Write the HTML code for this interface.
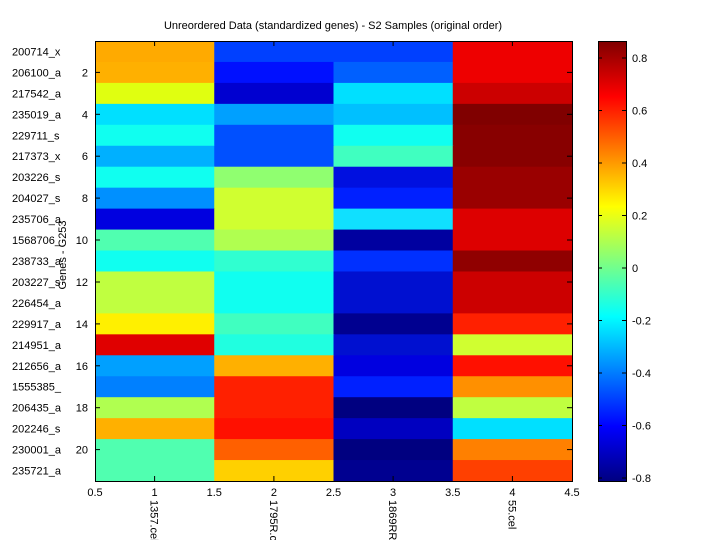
<!DOCTYPE html><html><head><style>body{margin:0;background:#fff}</style></head><body>
<svg width="720" height="540" xmlns="http://www.w3.org/2000/svg" font-family="Liberation Sans, sans-serif" font-size="11">
<rect width="720" height="540" fill="#fff"/>
<text x="333" y="29" text-anchor="middle">Unreordered Data (standardized genes) - S2 Samples (original order)</text>
<g>
<g transform="translate(0,41)"><rect x="95" width="120" height="21.5" fill="#FFAA00"/><rect x="214.25" width="120" height="21.5" fill="#0040FF"/><rect x="333.5" width="120" height="21.5" fill="#0040FF"/><rect x="452.75" width="119.25" height="21.5" fill="#EE0000"/></g>
<g transform="translate(0,61.95)"><rect x="95" width="120" height="21.5" fill="#FFB000"/><rect x="214.25" width="120" height="21.5" fill="#0010FF"/><rect x="333.5" width="120" height="21.5" fill="#0060FF"/><rect x="452.75" width="119.25" height="21.5" fill="#EE0000"/></g>
<g transform="translate(0,82.9)"><rect x="95" width="120" height="21.5" fill="#E0FF10"/><rect x="214.25" width="120" height="21.5" fill="#0000D0"/><rect x="333.5" width="120" height="21.5" fill="#00E0FF"/><rect x="452.75" width="119.25" height="21.5" fill="#CC0000"/></g>
<g transform="translate(0,103.86)"><rect x="95" width="120" height="21.5" fill="#00E0FF"/><rect x="214.25" width="120" height="21.5" fill="#00A0FF"/><rect x="333.5" width="120" height="21.5" fill="#00C0FF"/><rect x="452.75" width="119.25" height="21.5" fill="#800000"/></g>
<g transform="translate(0,124.81)"><rect x="95" width="120" height="21.5" fill="#10FFF0"/><rect x="214.25" width="120" height="21.5" fill="#0050FF"/><rect x="333.5" width="120" height="21.5" fill="#10FFF0"/><rect x="452.75" width="119.25" height="21.5" fill="#880000"/></g>
<g transform="translate(0,145.76)"><rect x="95" width="120" height="21.5" fill="#00B0FF"/><rect x="214.25" width="120" height="21.5" fill="#0050FF"/><rect x="333.5" width="120" height="21.5" fill="#40FFC0"/><rect x="452.75" width="119.25" height="21.5" fill="#880000"/></g>
<g transform="translate(0,166.71)"><rect x="95" width="120" height="21.5" fill="#10FFF0"/><rect x="214.25" width="120" height="21.5" fill="#90FF70"/><rect x="333.5" width="120" height="21.5" fill="#0010E0"/><rect x="452.75" width="119.25" height="21.5" fill="#9A0000"/></g>
<g transform="translate(0,187.67)"><rect x="95" width="120" height="21.5" fill="#0090FF"/><rect x="214.25" width="120" height="21.5" fill="#D0FF30"/><rect x="333.5" width="120" height="21.5" fill="#0020FF"/><rect x="452.75" width="119.25" height="21.5" fill="#9A0000"/></g>
<g transform="translate(0,208.62)"><rect x="95" width="120" height="21.5" fill="#0000E0"/><rect x="214.25" width="120" height="21.5" fill="#D0FF30"/><rect x="333.5" width="120" height="21.5" fill="#10E0FF"/><rect x="452.75" width="119.25" height="21.5" fill="#DD0000"/></g>
<g transform="translate(0,229.57)"><rect x="95" width="120" height="21.5" fill="#50FFB0"/><rect x="214.25" width="120" height="21.5" fill="#B0FF50"/><rect x="333.5" width="120" height="21.5" fill="#0000A0"/><rect x="452.75" width="119.25" height="21.5" fill="#DD0000"/></g>
<g transform="translate(0,250.52)"><rect x="95" width="120" height="21.5" fill="#10FFF0"/><rect x="214.25" width="120" height="21.5" fill="#30FFD0"/><rect x="333.5" width="120" height="21.5" fill="#0030FF"/><rect x="452.75" width="119.25" height="21.5" fill="#900000"/></g>
<g transform="translate(0,271.48)"><rect x="95" width="120" height="21.5" fill="#C0FF40"/><rect x="214.25" width="120" height="21.5" fill="#10FFF0"/><rect x="333.5" width="120" height="21.5" fill="#0010D0"/><rect x="452.75" width="119.25" height="21.5" fill="#CC0000"/></g>
<g transform="translate(0,292.43)"><rect x="95" width="120" height="21.5" fill="#C0FF40"/><rect x="214.25" width="120" height="21.5" fill="#10FFF0"/><rect x="333.5" width="120" height="21.5" fill="#0010D0"/><rect x="452.75" width="119.25" height="21.5" fill="#CC0000"/></g>
<g transform="translate(0,313.38)"><rect x="95" width="120" height="21.5" fill="#FFF000"/><rect x="214.25" width="120" height="21.5" fill="#40FFC0"/><rect x="333.5" width="120" height="21.5" fill="#000090"/><rect x="452.75" width="119.25" height="21.5" fill="#FF2000"/></g>
<g transform="translate(0,334.33)"><rect x="95" width="120" height="21.5" fill="#E00000"/><rect x="214.25" width="120" height="21.5" fill="#20FFE0"/><rect x="333.5" width="120" height="21.5" fill="#0010D0"/><rect x="452.75" width="119.25" height="21.5" fill="#D0FF30"/></g>
<g transform="translate(0,355.29)"><rect x="95" width="120" height="21.5" fill="#00A0FF"/><rect x="214.25" width="120" height="21.5" fill="#FFB000"/><rect x="333.5" width="120" height="21.5" fill="#0000E0"/><rect x="452.75" width="119.25" height="21.5" fill="#FF1000"/></g>
<g transform="translate(0,376.24)"><rect x="95" width="120" height="21.5" fill="#0080FF"/><rect x="214.25" width="120" height="21.5" fill="#FF2000"/><rect x="333.5" width="120" height="21.5" fill="#0020FF"/><rect x="452.75" width="119.25" height="21.5" fill="#FF9000"/></g>
<g transform="translate(0,397.19)"><rect x="95" width="120" height="21.5" fill="#B0FF50"/><rect x="214.25" width="120" height="21.5" fill="#FF2000"/><rect x="333.5" width="120" height="21.5" fill="#000080"/><rect x="452.75" width="119.25" height="21.5" fill="#C0FF40"/></g>
<g transform="translate(0,418.14)"><rect x="95" width="120" height="21.5" fill="#FFB000"/><rect x="214.25" width="120" height="21.5" fill="#FF1000"/><rect x="333.5" width="120" height="21.5" fill="#0000C0"/><rect x="452.75" width="119.25" height="21.5" fill="#00E0FF"/></g>
<g transform="translate(0,439.1)"><rect x="95" width="120" height="21.5" fill="#50FFB0"/><rect x="214.25" width="120" height="21.5" fill="#FF6000"/><rect x="333.5" width="120" height="21.5" fill="#000080"/><rect x="452.75" width="119.25" height="21.5" fill="#FF8000"/></g>
<g transform="translate(0,460.05)"><rect x="95" width="120" height="20.95" fill="#50FFB0"/><rect x="214.25" width="120" height="20.95" fill="#FFD000"/><rect x="333.5" width="120" height="20.95" fill="#000090"/><rect x="452.75" width="119.25" height="20.95" fill="#FF4000"/></g>
</g>
<rect x="95.5" y="41.5" width="477" height="440" fill="none" stroke="#000"/>
<defs><linearGradient id="jet" x1="0" y1="1" x2="0" y2="0">
<stop offset="0" stop-color="#000080"/><stop offset="0.125" stop-color="#0000ff"/><stop offset="0.375" stop-color="#00ffff"/><stop offset="0.625" stop-color="#ffff00"/><stop offset="0.875" stop-color="#ff0000"/><stop offset="1" stop-color="#800000"/></linearGradient></defs>
<rect x="598.5" y="41.5" width="28" height="440" fill="url(#jet)" stroke="#000"/>
<g stroke="#000">
<line x1="598" x2="602" y1="478" y2="478"/><line x1="622" x2="626" y1="478" y2="478"/>
<line x1="598" x2="602" y1="425.5" y2="425.5"/><line x1="622" x2="626" y1="425.5" y2="425.5"/>
<line x1="598" x2="602" y1="373" y2="373"/><line x1="622" x2="626" y1="373" y2="373"/>
<line x1="598" x2="602" y1="320.5" y2="320.5"/><line x1="622" x2="626" y1="320.5" y2="320.5"/>
<line x1="598" x2="602" y1="268" y2="268"/><line x1="622" x2="626" y1="268" y2="268"/>
<line x1="598" x2="602" y1="215.5" y2="215.5"/><line x1="622" x2="626" y1="215.5" y2="215.5"/>
<line x1="598" x2="602" y1="163" y2="163"/><line x1="622" x2="626" y1="163" y2="163"/>
<line x1="598" x2="602" y1="110.5" y2="110.5"/><line x1="622" x2="626" y1="110.5" y2="110.5"/>
<line x1="598" x2="602" y1="58" y2="58"/><line x1="622" x2="626" y1="58" y2="58"/>
</g>
<g>
<text x="632" y="482">-0.8</text><text x="632" y="429.5">-0.6</text><text x="632" y="377">-0.4</text><text x="632" y="324.5">-0.2</text><text x="632" y="272">0</text><text x="632" y="219.5">0.2</text><text x="632" y="167">0.4</text><text x="632" y="114.5">0.6</text><text x="632" y="62">0.8</text>
</g>
<g>
<text x="12" y="55.5">200714_x</text><text x="12" y="76.4">206100_a</text><text x="12" y="97.4">217542_a</text><text x="12" y="118.3">235019_a</text><text x="12" y="139.3">229711_s</text><text x="12" y="160.2">217373_x</text><text x="12" y="181.2">203226_s</text><text x="12" y="202.1">204027_s</text><text x="12" y="223.1">235706_a</text><text x="12" y="244">1568706_</text><text x="12" y="265">238733_a</text><text x="12" y="286">203227_s</text><text x="12" y="306.9">226454_a</text><text x="12" y="327.9">229917_a</text><text x="12" y="348.8">214951_a</text><text x="12" y="369.8">212656_a</text><text x="12" y="390.7">1555385_</text><text x="12" y="411.7">206435_a</text><text x="12" y="432.6">202246_s</text><text x="12" y="453.6">230001_a</text><text x="12" y="474.5">235721_a</text>
</g>
<g text-anchor="end">
<text x="88" y="76.4">2</text><text x="88" y="118.3">4</text><text x="88" y="160.2">6</text><text x="88" y="202.1">8</text><text x="88" y="244">10</text><text x="88" y="286">12</text><text x="88" y="327.9">14</text><text x="88" y="369.8">16</text><text x="88" y="411.7">18</text><text x="88" y="453.6">20</text>
</g>
<g stroke="#000">
<line x1="95" x2="100" y1="72.4" y2="72.4"/><line x1="95" x2="100" y1="114.3" y2="114.3"/><line x1="95" x2="100" y1="156.2" y2="156.2"/><line x1="95" x2="100" y1="198.1" y2="198.1"/><line x1="95" x2="100" y1="240" y2="240"/><line x1="95" x2="100" y1="282" y2="282"/><line x1="95" x2="100" y1="323.9" y2="323.9"/><line x1="95" x2="100" y1="365.8" y2="365.8"/><line x1="95" x2="100" y1="407.7" y2="407.7"/><line x1="95" x2="100" y1="449.6" y2="449.6"/>
<line x1="567" x2="572" y1="72.4" y2="72.4"/><line x1="567" x2="572" y1="114.3" y2="114.3"/><line x1="567" x2="572" y1="156.2" y2="156.2"/><line x1="567" x2="572" y1="198.1" y2="198.1"/><line x1="567" x2="572" y1="240" y2="240"/><line x1="567" x2="572" y1="282" y2="282"/><line x1="567" x2="572" y1="323.9" y2="323.9"/><line x1="567" x2="572" y1="365.8" y2="365.8"/><line x1="567" x2="572" y1="407.7" y2="407.7"/><line x1="567" x2="572" y1="449.6" y2="449.6"/>
<line x1="154.6" x2="154.6" y1="481" y2="476"/><line x1="273.9" x2="273.9" y1="481" y2="476"/><line x1="393.1" x2="393.1" y1="481" y2="476"/><line x1="512.4" x2="512.4" y1="481" y2="476"/>
<line x1="154.6" x2="154.6" y1="41" y2="46"/><line x1="273.9" x2="273.9" y1="41" y2="46"/><line x1="393.1" x2="393.1" y1="41" y2="46"/><line x1="512.4" x2="512.4" y1="41" y2="46"/>
</g>
<g text-anchor="middle">
<text x="95" y="496">0.5</text><text x="154.6" y="496">1</text><text x="214.25" y="496">1.5</text><text x="273.9" y="496">2</text><text x="333.5" y="496">2.5</text><text x="393.1" y="496">3</text><text x="452.75" y="496">3.5</text><text x="512.4" y="496">4</text><text x="572" y="496">4.5</text>
</g>
<text transform="translate(150.6,500) rotate(90)">1357.cel</text>
<text transform="translate(269.9,500) rotate(90)">1795R.c</text>
<text transform="translate(389.1,500) rotate(90)">1869RR</text>
<text transform="translate(508.4,500) rotate(90)">55.cel</text>
<text transform="translate(66,255) rotate(-90)" text-anchor="middle">Genes - G253</text>
</svg></body></html>
